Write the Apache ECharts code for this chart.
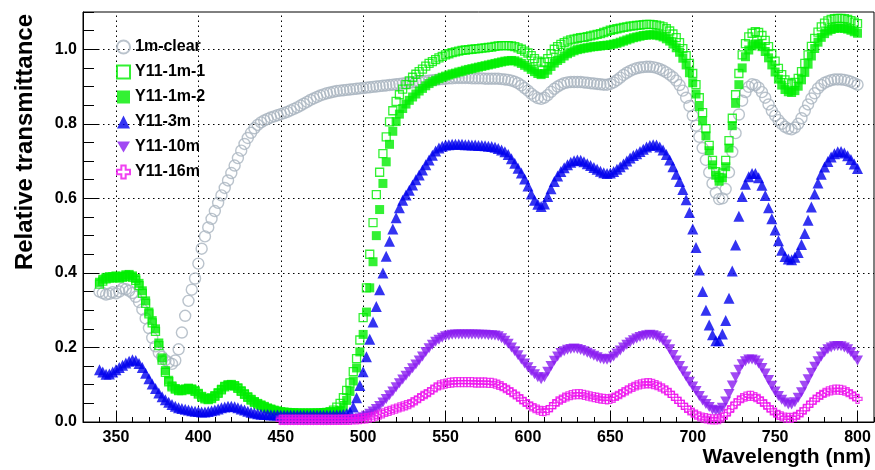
<!DOCTYPE html>
<html><head><meta charset="utf-8">
<script src="https://cdn.jsdelivr.net/npm/echarts@6/dist/echarts.min.js"></script>
<style>html,body{margin:0;padding:0;background:#fff}#c{width:875px;height:470px}</style>
</head><body><div id="c"></div>
<script>
// Wavelength grid (nm)
const wavelength = [
340,342,344,346,348, 350,352,354,356,358, 360,362,364,366,368, 370,372,374,376,378,
380,382,384,386,388, 390,392,394,396,398, 400,402,404,406,408, 410,412,414,416,418,
420,422,424,426,428, 430,432,434,436,438, 440,442,444,446,448, 450,452,454,456,458,
460,462,464,466,468, 470,472,474,476,478, 480,482,484,486,488, 490,492,494,496,498,
500,502,504,506,508, 510,512,514,516,518, 520,522,524,526,528, 530,532,534,536,538,
540,542,544,546,548, 550,552,554,556,558, 560,562,564,566,568, 570,572,574,576,578,
580,582,584,586,588, 590,592,594,596,598, 600,602,604,606,608, 610,612,614,616,618,
620,622,624,626,628, 630,632,634,636,638, 640,642,644,646,648, 650,652,654,656,658,
660,662,664,666,668, 670,672,674,676,678, 680,682,684,686,688, 690,692,694,696,698,
700,702,704,706,708, 710,712,714,716,718, 720,722,724,726,728, 730,732,734,736,738,
740,742,744,746,748, 750,752,754,756,758, 760,762,764,766,768, 770,772,774,776,778,
780,782,784,786,788, 790,792,794,796,798, 800];

const clear1m = [
0.350,0.346,0.342,0.344,0.348, 0.345,0.350,0.358,0.356,0.352, 0.346,0.336,0.322,0.302,0.278, 0.252,0.226,0.203,0.186,0.175,
0.166,0.160,0.156,0.165,0.195, 0.240,0.285,0.325,0.355,0.385, 0.425,0.465,0.498,0.522,0.545, 0.566,0.588,0.608,0.628,0.648,
0.668,0.688,0.708,0.728,0.746, 0.762,0.776,0.788,0.797,0.804, 0.809,0.813,0.817,0.820,0.823, 0.826,0.829,0.832,0.836,0.840,
0.844,0.849,0.854,0.859,0.864, 0.868,0.872,0.876,0.879,0.882, 0.884,0.886,0.888,0.889,0.890, 0.891,0.892,0.893,0.894,0.895,
0.896,0.897,0.898,0.899,0.900, 0.901,0.902,0.903,0.904,0.905, 0.906,0.907,0.908,0.909,0.910, 0.911,0.912,0.913,0.914,0.915,
0.916,0.917,0.918,0.919,0.920, 0.921,0.922,0.922,0.923,0.923, 0.923,0.923,0.923,0.922,0.922, 0.922,0.922,0.921,0.921,0.921,
0.921,0.921,0.920,0.919,0.918, 0.916,0.913,0.909,0.903,0.896, 0.889,0.881,0.874,0.869,0.867, 0.870,0.877,0.886,0.894,0.900,
0.905,0.909,0.911,0.912,0.912, 0.912,0.912,0.911,0.910,0.909, 0.908,0.907,0.906,0.905,0.905, 0.907,0.911,0.917,0.924,0.931,
0.937,0.942,0.946,0.949,0.951, 0.952,0.953,0.953,0.952,0.950, 0.947,0.943,0.938,0.932,0.925, 0.916,0.904,0.889,0.870,0.848,
0.822,0.795,0.765,0.735,0.703, 0.670,0.640,0.615,0.598,0.600, 0.625,0.670,0.725,0.775,0.825, 0.862,0.885,0.899,0.906,0.904,
0.897,0.885,0.870,0.852,0.835, 0.822,0.810,0.800,0.792,0.787, 0.785,0.790,0.800,0.815,0.835, 0.852,0.868,0.882,0.895,0.904,
0.910,0.914,0.917,0.919,0.919, 0.919,0.918,0.916,0.913,0.909, 0.905];

const y11_1m_1 = [
0.370,0.378,0.384,0.386,0.387, 0.388,0.386,0.388,0.391,0.392, 0.388,0.380,0.366,0.345,0.318, 0.290,0.266,0.243,0.205,0.166,
0.133,0.108,0.094,0.088,0.084, 0.084,0.087,0.089,0.087,0.082, 0.075,0.067,0.062,0.060,0.063, 0.069,0.077,0.086,0.094,0.098,
0.099,0.096,0.090,0.082,0.074, 0.066,0.059,0.053,0.048,0.044, 0.040,0.036,0.033,0.030,0.028, 0.026,0.025,0.024,0.024,0.024,
0.023,0.023,0.023,0.023,0.023, 0.023,0.024,0.024,0.025,0.026, 0.028,0.032,0.040,0.050,0.065, 0.085,0.105,0.135,0.170,0.220,
0.280,0.360,0.450,0.535,0.610, 0.670,0.720,0.765,0.805,0.835, 0.860,0.878,0.893,0.905,0.915, 0.925,0.933,0.940,0.947,0.955,
0.962,0.967,0.972,0.977,0.981, 0.985,0.988,0.991,0.993,0.995, 0.997,0.998,0.999,1.000,1.001, 1.002,1.003,1.004,1.005,1.006,
1.008,1.009,1.010,1.010,1.010, 1.009,1.007,1.004,1.000,0.995, 0.990,0.983,0.975,0.968,0.964, 0.966,0.975,0.988,1.000,1.007,
1.013,1.018,1.022,1.025,1.027, 1.029,1.031,1.032,1.034,1.036, 1.038,1.040,1.042,1.045,1.048, 1.051,1.053,1.055,1.057,1.059,
1.060,1.062,1.063,1.064,1.065, 1.066,1.067,1.067,1.066,1.065, 1.063,1.060,1.055,1.049,1.041, 1.031,1.018,1.002,0.983,0.962,
0.935,0.905,0.870,0.830,0.787, 0.742,0.702,0.672,0.656,0.668, 0.702,0.755,0.815,0.878,0.935, 0.985,1.015,1.033,1.043,1.047,
1.045,1.037,1.024,1.007,0.988, 0.968,0.949,0.932,0.918,0.910, 0.907,0.911,0.922,0.940,0.962, 0.985,1.008,1.029,1.046,1.060,
1.070,1.076,1.080,1.082,1.083, 1.083,1.082,1.080,1.077,1.073, 1.069];

const y11_1m_2 = [
0.375,0.383,0.388,0.390,0.390, 0.392,0.389,0.391,0.395,0.396, 0.392,0.385,0.372,0.352,0.325, 0.295,0.272,0.250,0.212,0.172,
0.138,0.112,0.097,0.090,0.086, 0.086,0.089,0.091,0.089,0.084, 0.077,0.069,0.064,0.062,0.065, 0.071,0.079,0.088,0.096,0.100,
0.101,0.098,0.092,0.084,0.076, 0.068,0.061,0.055,0.050,0.046, 0.042,0.038,0.035,0.032,0.030, 0.028,0.027,0.026,0.025,0.025,
0.024,0.024,0.024,0.024,0.024, 0.024,0.024,0.024,0.025,0.025, 0.026,0.027,0.028,0.031,0.040, 0.058,0.082,0.110,0.145,0.188,
0.235,0.295,0.360,0.430,0.500, 0.570,0.640,0.698,0.745,0.780, 0.806,0.826,0.841,0.853,0.863, 0.872,0.880,0.888,0.895,0.902,
0.908,0.913,0.917,0.921,0.925, 0.928,0.931,0.934,0.936,0.939, 0.941,0.944,0.946,0.948,0.950, 0.952,0.954,0.956,0.958,0.960,
0.962,0.964,0.966,0.968,0.969, 0.970,0.969,0.966,0.962,0.957, 0.952,0.946,0.940,0.935,0.932, 0.935,0.944,0.954,0.963,0.970,
0.975,0.982,0.988,0.992,0.996, 0.999,1.001,1.003,1.004,1.006, 1.007,1.008,1.009,1.010,1.011, 1.012,1.014,1.016,1.019,1.022,
1.025,1.028,1.031,1.033,1.035, 1.037,1.038,1.039,1.039,1.038, 1.036,1.033,1.028,1.022,1.014, 1.004,0.992,0.976,0.958,0.937,
0.910,0.880,0.846,0.808,0.768, 0.728,0.690,0.662,0.646,0.655, 0.685,0.735,0.795,0.855,0.905, 0.950,0.980,0.998,1.009,1.014,
1.014,1.007,0.994,0.977,0.958, 0.939,0.920,0.904,0.892,0.886, 0.884,0.889,0.901,0.918,0.938, 0.960,0.982,1.002,1.019,1.032,
1.042,1.049,1.053,1.056,1.057, 1.057,1.056,1.054,1.051,1.047, 1.043];

const y11_3m = [
0.140,0.134,0.128,0.129,0.134, 0.140,0.146,0.152,0.158,0.163, 0.167,0.165,0.157,0.146,0.131, 0.116,0.102,0.090,0.078,0.068,
0.060,0.053,0.047,0.042,0.038, 0.036,0.034,0.032,0.030,0.029, 0.028,0.027,0.027,0.028,0.030, 0.032,0.035,0.038,0.040,0.042,
0.042,0.041,0.038,0.035,0.032, 0.029,0.026,0.024,0.022,0.021, 0.020,0.020,0.019,0.019,0.019, 0.018,0.018,0.018,0.018,0.018,
0.018,0.018,0.018,0.018,0.018, 0.018,0.018,0.018,0.018,0.018, 0.018,0.018,0.019,0.019,0.020, 0.022,0.027,0.040,0.065,0.098,
0.135,0.175,0.222,0.268,0.310, 0.355,0.400,0.445,0.485,0.518, 0.548,0.575,0.595,0.609,0.622, 0.636,0.650,0.663,0.676,0.690,
0.703,0.716,0.727,0.735,0.740, 0.743,0.744,0.745,0.745,0.745, 0.745,0.744,0.744,0.743,0.743, 0.742,0.742,0.741,0.740,0.739,
0.737,0.734,0.730,0.725,0.718, 0.706,0.694,0.681,0.668,0.652, 0.633,0.612,0.595,0.584,0.578, 0.585,0.605,0.626,0.645,0.660,
0.672,0.682,0.690,0.697,0.701, 0.703,0.702,0.698,0.693,0.688, 0.683,0.678,0.673,0.669,0.667, 0.668,0.672,0.678,0.685,0.692,
0.700,0.708,0.715,0.720,0.726, 0.732,0.738,0.742,0.744,0.743, 0.738,0.730,0.718,0.703,0.685, 0.665,0.645,0.624,0.596,0.562,
0.518,0.468,0.408,0.350,0.300, 0.260,0.234,0.218,0.218,0.236, 0.272,0.332,0.405,0.475,0.552, 0.605,0.638,0.658,0.667,0.667,
0.655,0.635,0.608,0.575,0.545, 0.515,0.486,0.461,0.444,0.437, 0.435,0.442,0.455,0.476,0.506, 0.541,0.577,0.612,0.641,0.665,
0.684,0.699,0.711,0.720,0.725, 0.726,0.722,0.714,0.704,0.692, 0.680];

// Y11-10m and Y11-16m start at 450 nm
const y11_10m = [
0.004,0.004,0.004,0.004,0.004, 0.004,0.004,0.004,0.004,0.004, 0.004,0.004,0.004,0.004,0.004, 0.004,0.005,0.005,0.005,0.006,
0.006,0.007,0.007,0.008,0.010, 0.013,0.017,0.022,0.028,0.035, 0.043,0.052,0.062,0.072,0.082, 0.093,0.104,0.114,0.124,0.134,
0.144,0.154,0.165,0.176,0.188, 0.198,0.207,0.215,0.221,0.226, 0.230,0.232,0.234,0.235,0.235, 0.235,0.235,0.235,0.235,0.235,
0.234,0.234,0.234,0.233,0.233, 0.232,0.230,0.225,0.218,0.210, 0.200,0.190,0.179,0.168,0.157, 0.147,0.137,0.128,0.120,0.115,
0.120,0.135,0.150,0.164,0.176, 0.185,0.190,0.194,0.196,0.197, 0.196,0.193,0.190,0.186,0.182, 0.178,0.174,0.170,0.168,0.167,
0.170,0.176,0.184,0.192,0.200, 0.207,0.213,0.219,0.224,0.228, 0.231,0.233,0.234,0.233,0.230, 0.225,0.218,0.208,0.195,0.180,
0.165,0.150,0.136,0.122,0.108, 0.095,0.083,0.070,0.058,0.048, 0.040,0.033,0.030,0.030,0.038, 0.055,0.075,0.098,0.120,0.140,
0.155,0.163,0.168,0.168,0.165, 0.157,0.145,0.130,0.113,0.097, 0.082,0.070,0.060,0.052,0.047, 0.047,0.053,0.065,0.080,0.097,
0.115,0.132,0.148,0.163,0.176, 0.187,0.195,0.200,0.203,0.204, 0.203,0.200,0.195,0.187,0.177, 0.165];

const y11_16m = [
0.006,0.006,0.006,0.006,0.006, 0.006,0.006,0.006,0.006,0.006, 0.006,0.006,0.006,0.006,0.006, 0.006,0.006,0.006,0.006,0.006,
0.006,0.006,0.007,0.007,0.008, 0.009,0.010,0.012,0.014,0.017, 0.020,0.023,0.027,0.030,0.033, 0.036,0.039,0.042,0.045,0.048,
0.053,0.058,0.064,0.070,0.075, 0.080,0.087,0.093,0.098,0.101, 0.103,0.105,0.106,0.107,0.107, 0.107,0.107,0.107,0.107,0.106,
0.106,0.106,0.106,0.105,0.105, 0.103,0.100,0.096,0.091,0.086, 0.080,0.074,0.068,0.061,0.054, 0.048,0.042,0.037,0.033,0.030,
0.029,0.032,0.040,0.048,0.055, 0.060,0.065,0.069,0.072,0.074, 0.075,0.075,0.073,0.071,0.069, 0.067,0.065,0.063,0.062,0.061,
0.062,0.065,0.070,0.075,0.080, 0.085,0.090,0.094,0.098,0.101, 0.103,0.104,0.104,0.102,0.099, 0.095,0.090,0.085,0.078,0.070,
0.062,0.054,0.046,0.038,0.031, 0.025,0.020,0.015,0.012,0.010, 0.008,0.007,0.007,0.008,0.012, 0.020,0.030,0.040,0.050,0.058,
0.064,0.068,0.070,0.070,0.067, 0.062,0.055,0.047,0.039,0.031, 0.025,0.019,0.015,0.012,0.011, 0.011,0.014,0.019,0.026,0.034,
0.043,0.052,0.060,0.067,0.073, 0.078,0.082,0.085,0.087,0.087, 0.086,0.084,0.080,0.075,0.069, 0.062];

const seriesNames = ['1m-clear', 'Y11-1m-1', 'Y11-1m-2', 'Y11-3m', 'Y11-10m', 'Y11-16m'];
const xTickValues = [350, 400, 450, 500, 550, 600, 650, 700, 750, 800];
const yTickValues = [0, 0.2, 0.4, 0.6, 0.8, 1.0];
const xGridValues = [350, 400, 450, 500, 550, 600, 650, 700, 750, 800];
const yGridValues = [0.2, 0.4, 0.6, 0.8, 1.0];
const xTitle = 'Wavelength (nm)';
const yTitle = 'Relative transmittance';

const wavelengthLong = wavelength.slice(wavelength.indexOf(450));
function pairs(xs, ys) { return ys.map(function (v, i) { return [xs[i], v]; }); }

const FONT = "'Liberation Sans', Arial, Helvetica, sans-serif";
const crossPath = 'path://M3,0L6,0L6,3L9,3L9,6L6,6L6,9L3,9L3,6L0,6L0,3L3,3Z';
const downTriPath = 'path://M0,0L20,0L10,17.3Z';
const clearFill = 'rgba(255,255,255,0)';

const chart = echarts.init(document.getElementById('c'), null, { renderer: 'canvas' });
const tickLine = { color: '#000', width: 1 };
const gridLine = { color: '#000', width: 1, type: [1.5, 3.5] };
const labelFont = { color: '#000', fontSize: 16, fontWeight: 'bold', fontFamily: FONT };

const gridMarks = xGridValues.map(function (v) { return { xAxis: v }; })
  .concat(yGridValues.map(function (v) { return { yAxis: v }; }));

chart.setOption({
  animation: false,
  backgroundColor: '#fff',
  grid: { left: 83, right: 1, top: 12, bottom: 48, show: true, borderColor: '#000', borderWidth: 1,
          backgroundColor: 'rgba(0,0,0,0)', containLabel: false, outerBoundsMode: 'none' },
  xAxis: [
    { type: 'value', position: 'bottom', min: 330, max: 810, interval: 10,
      axisLine: { show: true, onZero: false, lineStyle: tickLine },
      axisTick: { show: true, inside: true, length: 5, lineStyle: tickLine },
      axisLabel: { show: false }, splitLine: { show: false } },
    { type: 'value', position: 'bottom', min: 330, max: 810,
      axisLine: { show: false, onZero: false },
      axisTick: { show: true, inside: true, length: 10, customValues: xTickValues, lineStyle: tickLine },
      axisLabel: Object.assign({ show: true, customValues: xTickValues, margin: 8 }, labelFont),
      splitLine: { show: false } }
  ],
  yAxis: [
    { type: 'value', position: 'left', min: 0, max: 1.1, interval: 0.05,
      axisLine: { show: true, onZero: false, lineStyle: tickLine },
      axisTick: { show: true, inside: true, length: 11, lineStyle: tickLine },
      axisLabel: { show: false }, splitLine: { show: false } },
    { type: 'value', position: 'left', min: 0, max: 1.1,
      axisLine: { show: false, onZero: false },
      axisTick: { show: true, inside: true, length: 16, customValues: yTickValues, lineStyle: tickLine },
      axisLabel: Object.assign({ show: true, customValues: yTickValues, margin: 6,
        formatter: function (v) { return Number(v).toFixed(1); } }, labelFont),
      splitLine: { show: false } }
  ],
  legend: {
    orient: 'vertical', left: 111, top: 34, itemWidth: 13, itemHeight: 13, itemGap: 9,
    data: seriesNames, selectedMode: false,
    textStyle: { color: '#000', fontSize: 16, fontWeight: 'bold', fontFamily: FONT, padding: [0, 0, 0, 0] }
  },
  graphic: [
    { type: 'text', x: 25, y: 14, rotation: Math.PI / 2, silent: true,
      style: { text: yTitle, fill: '#000', fontSize: 24, fontWeight: 'bold', fontFamily: FONT,
               align: 'right', verticalAlign: 'middle' } },
    { type: 'text', x: 871, y: 457, silent: true,
      style: { text: xTitle, fill: '#000', fontSize: 21, fontWeight: 'bold', fontFamily: FONT,
               align: 'right', verticalAlign: 'middle' } }
  ],
  series: [
    { name: 'grid', type: 'scatter', data: [], z: 1, silent: true,
      markLine: { silent: true, z: 1, symbol: ['none', 'none'], animation: false,
        label: { show: false }, emphasis: { disabled: true },
        lineStyle: gridLine, data: gridMarks } },
    { name: seriesNames[0], type: 'scatter', symbol: 'circle', symbolSize: 11,
      itemStyle: { color: clearFill, borderColor: '#a9b4bf', borderWidth: 1.4 },
      data: pairs(wavelength, clear1m) },
    { name: seriesNames[1], type: 'scatter', symbol: 'rect', symbolSize: 8,
      itemStyle: { color: clearFill, borderColor: '#00ee00', borderWidth: 1.3 },
      data: pairs(wavelength, y11_1m_1) },
    { name: seriesNames[2], type: 'scatter', symbol: 'rect', symbolSize: 9,
      itemStyle: { color: '#00ee00' },
      data: pairs(wavelength, y11_1m_2) },
    { name: seriesNames[3], type: 'scatter', symbol: 'triangle', symbolSize: 11,
      itemStyle: { color: '#0000ee' },
      data: pairs(wavelength, y11_3m) },
    { name: seriesNames[4], type: 'scatter', symbol: downTriPath, symbolSize: [11, 10],
      itemStyle: { color: '#8a1cf0' },
      data: pairs(wavelengthLong, y11_10m) },
    { name: seriesNames[5], type: 'scatter', symbol: crossPath, symbolSize: 9,
      itemStyle: { color: clearFill, borderColor: '#ee11ee', borderWidth: 1.3 },
      data: pairs(wavelengthLong, y11_16m) }
  ]
});
</script>
</body></html>
